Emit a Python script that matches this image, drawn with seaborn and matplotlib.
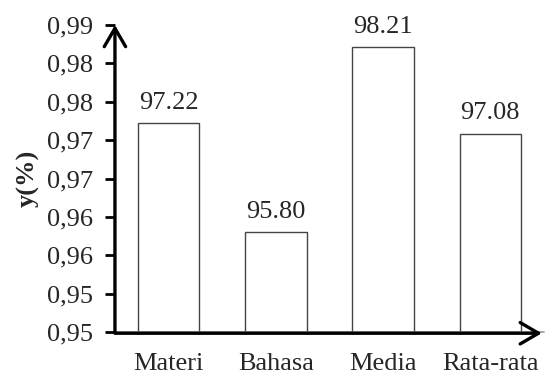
import math
import matplotlib
matplotlib.use("Agg")
import matplotlib.pyplot as plt
from matplotlib.ticker import FixedLocator, FuncFormatter
import seaborn as sns

categories = ["Materi", "Bahasa", "Media", "Rata-rata"]
values = [0.9722, 0.9580, 0.9821, 0.9708]
value_labels = ["97.22", "95.80", "98.21", "97.08"]
y_ticks = [0.945, 0.950, 0.955, 0.960, 0.965, 0.970, 0.975, 0.980, 0.985]

sns.set_theme(style="white")
plt.rcParams["font.family"] = ["Liberation Serif", "DejaVu Serif"]

FS = 19

fig = plt.figure(figsize=(5.5, 3.76), dpi=100)
ax = fig.add_axes([0.209, 0.117, 0.78, 0.8165])

sns.barplot(x=categories, y=values, ax=ax, color="white", width=0.574,
            edgecolor="#444444", linewidth=1.0, saturation=1)

ax.set_ylim(y_ticks[0], y_ticks[-1])
ax.set_xlim(-0.5, len(categories) - 0.5)


def comma_fmt(v, _pos):
    r = math.floor(v * 100 + 0.5 + 1e-9) / 100
    return f"{r:.2f}".replace(".", ",")


ax.yaxis.set_major_locator(FixedLocator(y_ticks))
ax.yaxis.set_major_formatter(FuncFormatter(comma_fmt))

ax.bar_label(ax.containers[0], labels=value_labels, padding=7, fontsize=FS)

for s in ax.spines.values():
    s.set_visible(False)

ax.tick_params(axis="y", which="major", left=True, length=7, width=2,
               color="black", labelsize=FS, pad=9, direction="out")
ax.tick_params(axis="x", bottom=False, labelsize=FS, pad=9)

ax.set_ylabel("y(%)", fontsize=FS, fontweight="bold", labelpad=5)
ax.set_xlabel("")

# thin grey baseline under the bars
ax.axhline(y_ticks[0], color="#999999", lw=1.2, zorder=3, clip_on=False)

# arrow-headed axes
arrow_kw = dict(arrowstyle="->, head_length=0.6, head_width=0.35", lw=2.4,
                color="black", mutation_scale=22, shrinkA=0, shrinkB=0)
ax.annotate("", xy=(0, 1.0), xytext=(0, 0), xycoords="axes fraction",
            arrowprops=arrow_kw, annotation_clip=False)
ax.annotate("", xy=(0.995, -0.004), xytext=(0, -0.004), xycoords="axes fraction",
            arrowprops=arrow_kw, annotation_clip=False)

fig.savefig("out.png", dpi=100)
